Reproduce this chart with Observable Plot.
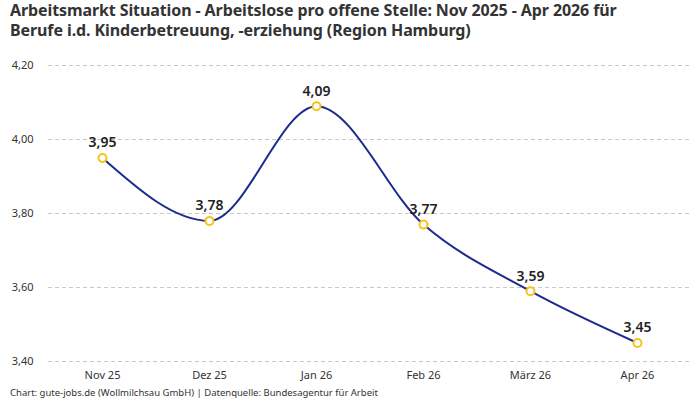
<!DOCTYPE html>
<html>
<head>
<meta charset="utf-8">
<script src="https://cdn.jsdelivr.net/npm/d3@7"></script>
<script src="https://cdn.jsdelivr.net/npm/@observablehq/plot@0.6"></script>
<style>
  body { margin: 0; background: #fff; font-family: "Noto Sans", Roboto, sans-serif; }
  #wrap { width: 700px; height: 400px; position: relative; overflow: hidden; }
  #title { font-size: 16px; font-weight: bold; color: #333; line-height: 20px; padding: 0 10px; height: 40px; letter-spacing: -0.1px; }
  #footer { position: absolute; left: 10px; top: 386px; font-size: 9.5px; color: #333; }
</style>
</head>
<body>
<div id="wrap">
  <div id="title">Arbeitsmarkt Situation - Arbeitslose pro offene Stelle: Nov 2025 - Apr 2026 für<br>Berufe i.d. Kinderbetreuung, -erziehung (Region Hamburg)</div>
  <div id="chart"></div>
  <div id="footer">Chart: gute-jobs.de (Wollmilchsau GmbH) | Datenquelle: Bundesagentur für Arbeit</div>
</div>
<script>
const months = ["Nov 25", "Dez 25", "Jan 26", "Feb 26", "März 26", "Apr 26"];
const values = [3.95, 3.78, 4.09, 3.77, 3.59, 3.45];
const yTicks = [3.4, 3.6, 3.8, 4.0, 4.2];

const data = months.map((m, i) => ({month: m, value: values[i]}));
const fmt = v => v.toFixed(2).replace(".", ",");

const chart = Plot.plot({
  width: 700,
  height: 345,
  marginTop: 25,
  marginBottom: 24,
  marginLeft: 48,
  marginRight: 10,
  style: {fontFamily: "'Noto Sans', Roboto, sans-serif", fontSize: "11px", color: "#333"},
  x: {type: "point", domain: months, padding: 0.5, label: null},
  y: {domain: [3.4, 4.2], ticks: yTicks, label: null, tickFormat: fmt},
  marks: [
    Plot.gridY(yTicks, {stroke: "#c8c8c8", strokeOpacity: 1, strokeDasharray: "4,3"}),
    Plot.axisY(yTicks, {tickSize: 0, tickPadding: 15, tickFormat: fmt, label: null, fontSize: 11}),
    Plot.axisX({tickSize: 0, tickPadding: 10, label: null, fontSize: 11}),
    Plot.line(data, {x: "month", y: "value", curve: "monotone-x", stroke: "#1c2b8c", strokeWidth: 2}),
    Plot.dot(data, {x: "month", y: "value", r: 4, fill: "white", stroke: "#f5c21b", strokeWidth: 2}),
    Plot.text(data, {x: "month", y: "value", text: d => fmt(d.value), dy: -15, fontSize: 14, fontWeight: 600, fill: "#222"})
  ]
});
document.getElementById("chart").appendChild(chart);
</script>
</body>
</html>
